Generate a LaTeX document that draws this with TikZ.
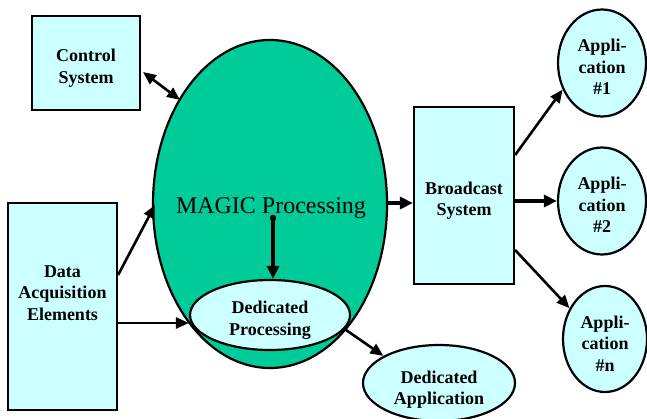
\documentclass[tikz,border=0pt]{standalone}
\usepackage{fontspec}
\setmainfont{Liberation Serif}
\usetikzlibrary{arrows.meta,shapes.geometric}
\definecolor{magic}{RGB}{0,204,153}
\definecolor{lcyan}{RGB}{204,255,255}
\newcommand{\dn}{\rule{0pt}{23pt}}
\begin{document}
\begin{tikzpicture}[x=1pt,y=-1pt,
  box/.style={draw=black,line width=2.2pt,fill=lcyan,inner sep=0pt,align=center,font=\fontsize{18}{21.5}\selectfont\bfseries},
  oval/.style={draw=black,line width=2.2pt,fill=lcyan,ellipse,inner sep=0pt,align=center,font=\fontsize{18}{21.5}\selectfont\bfseries},
  arr/.style={line width=2.6pt,-{Triangle[length=13pt,width=11pt]}},
  thickarr/.style={line width=4pt,-{Triangle[length=13pt,width=12pt]}}]
\useasboundingbox (0,0) rectangle (647,419);
\fill[white] (0,0) rectangle (647,419);
% big ellipse
\draw[line width=2.2pt,fill=magic] (270,204) ellipse [x radius=117, y radius=164];
\node[font=\fontsize{24}{28}\selectfont] (magic) at (271,208) {MAGIC Processing};
\coordinate (bigL) at (155,205);
\coordinate (bigNW) at (180,100);
\coordinate (bigE) at (387,203);
% nodes
\node[box,minimum width=108pt,minimum height=94pt] (ctrl) at (86,63) {\dn Control\\System};
\node[box,minimum width=109pt,minimum height=207pt] (daq) at (62.5,306.5) {Data\\Acquisition\\Elements\rule[-27pt]{0pt}{0pt}};
\node[box,minimum width=100pt,minimum height=177pt] (bcast) at (464,195.5) {\dn Broadcast\\System};
\node[oval,minimum width=160pt,minimum height=70pt] (dproc) at (270,315) {\dn Dedicated\\Processing};
\node[oval,minimum width=88pt,minimum height=107pt] (app1) at (602,63) {\rule{0pt}{21pt}Appli-\\cation\\\#1};
\node[oval,minimum width=88pt,minimum height=107pt] (app2) at (602,201) {\rule{0pt}{21pt}Appli-\\cation\\\#2};
\node[oval,minimum width=84pt,minimum height=106pt] (appn) at (605,339) {\rule{0pt}{21pt}Appli-\\cation\\\#n};
\node[oval,minimum width=152pt,minimum height=76pt] (dapp) at (439,383) {\rule{0pt}{26pt}Dedicated\\Application};
% connectors
\coordinate (c1) at (143,72);
\draw[line width=2.6pt,{Triangle[length=13pt,width=11pt]}-{Triangle[length=13pt,width=11pt]}] (c1) -- (bigNW);
\draw[arr] (daq.east |- 0,275) -- (bigL);
\draw[arr] (daq.east |- 0,323) -- (dproc.west |- 0,323) ;
\coordinate (mtop) at (273,218);
\fill (mtop) circle (3.2pt);
\draw[thickarr] (mtop) -- (dproc.north -| mtop);
\draw[thickarr] (bigE) -- (bcast.west |- bigE);
\draw[arr] (bcast.east |- 0,155) -- (app1.214);
\draw[thickarr] (bcast.east |- app2) -- (app2.west);
\draw[arr] (bcast.east |- 0,250) -- (appn.139);
\coordinate (dp1) at (346,330);
\draw[arr] (dp1) -- (dapp.154);
\end{tikzpicture}
\end{document}
